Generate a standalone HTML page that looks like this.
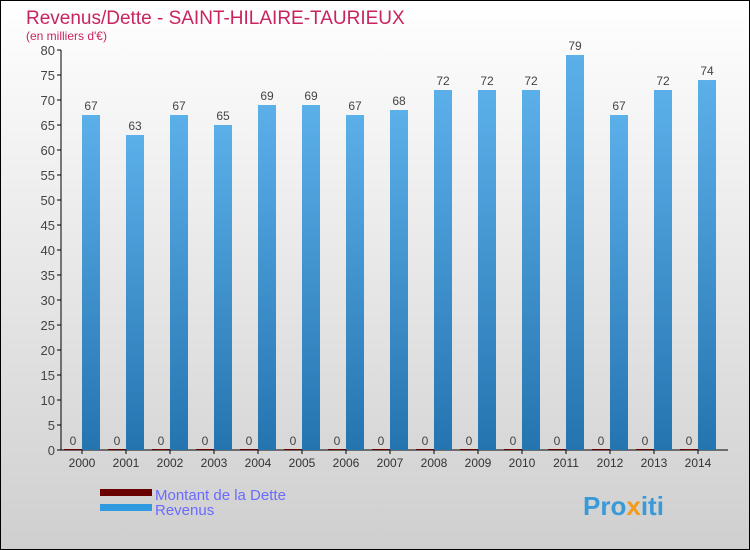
<!DOCTYPE html>
<html><head><meta charset="utf-8"><style>
body{margin:0}
svg{display:block;font-family:"Liberation Sans",sans-serif}
</style></head><body>
<svg id="c" width="750" height="550" xmlns="http://www.w3.org/2000/svg">
<defs>
<linearGradient id="bg" x1="0" y1="0" x2="0" y2="1"><stop offset="0" stop-color="#ffffff"/><stop offset="1" stop-color="#cfcfcf"/></linearGradient>
<linearGradient id="bar" x1="0" y1="0" x2="0" y2="1"><stop offset="0" stop-color="#5cb0ea"/><stop offset="1" stop-color="#2474b0"/></linearGradient>
</defs>
<rect x="0.5" y="0.5" width="749" height="549" fill="url(#bg)" stroke="#000"/>
<text x="26" y="24" font-size="19" fill="#c8245f">Revenus/Dette - SAINT-HILAIRE-TAURIEUX</text>
<text x="26" y="40" font-size="12" fill="#c8245f">(en milliers d'€)</text>
<g id="axes"></g><g id="bars"></g>
<rect x="100" y="489" width="52" height="7" fill="#6b0000"/>
<text x="155" y="500" font-size="15" fill="#6a6aff">Montant de la Dette</text>
<rect x="100" y="504" width="52" height="7" fill="#2f9ae0"/>
<text x="155" y="515" font-size="15" fill="#6a6aff">Revenus</text>
<text x="583" y="515" font-size="26" font-weight="bold" fill="#3a9ad8">Pro<tspan fill="#f29a1a">x</tspan>iti</text>
</svg>
<script>
const years=["2000","2001","2002","2003","2004","2005","2006","2007","2008","2009","2010","2011","2012","2013","2014"];
const revenus=[67,63,67,65,69,69,67,68,72,72,72,79,67,72,74];
const dette=[0,0,0,0,0,0,0,0,0,0,0,0,0,0,0];
const ticks=[0,5,10,15,20,25,30,35,40,45,50,55,60,65,70,75,80];
const NS="http://www.w3.org/2000/svg";
const y=v=>450-v*5, x=i=>82+i*44;
const ax=document.getElementById('axes'), bs=document.getElementById('bars');
function mk(p,t,a){const e=document.createElementNS(NS,t);for(const k in a)e.setAttribute(k,a[k]);p.appendChild(e);return e;}
let l=mk(ax,'line',{x1:61,y1:50,x2:61,y2:450,stroke:'#000'});


l=mk(ax,'line',{x1:61,y1:450,x2:728,y2:450,stroke:'#000'});


ticks.forEach(t=>{
 const tk=mk(ax,'line',{x1:57,x2:61,y1:y(t),y2:y(t),stroke:'#000'});
 
 
 const tx=mk(ax,'text',{x:55,y:y(t)+5,'font-size':13,fill:'#444','text-anchor':'end'});
 tx.textContent=t;
 
 
});
years.forEach((yr,i)=>{
 const c=x(i);
 const tk=mk(ax,'line',{x1:c,x2:c,y1:450,y2:454,stroke:'#000'});
 
 
 const tx=mk(ax,'text',{x:c,y:467,'font-size':12,fill:'#333','text-anchor':'middle'});
 tx.textContent=yr;
 
 
 const d=mk(bs,'rect',{x:c-18,y:y(dette[i])-1,width:18,height:dette[i]*5+1,fill:'#6b0000'});
 
 
 const dl=mk(bs,'text',{x:c-9,y:y(dette[i])-5,'font-size':12,fill:'#444','text-anchor':'middle'});
 dl.textContent=dette[i];
 
 
 const r=mk(bs,'rect',{x:c,y:y(revenus[i]),width:18,height:revenus[i]*5,fill:'url(#bar)'});
 
 
 const rl=mk(bs,'text',{x:c+9,y:y(revenus[i])-5,'font-size':12,fill:'#444','text-anchor':'middle'});
 rl.textContent=revenus[i];
 
 
});
</script>
</body></html>
